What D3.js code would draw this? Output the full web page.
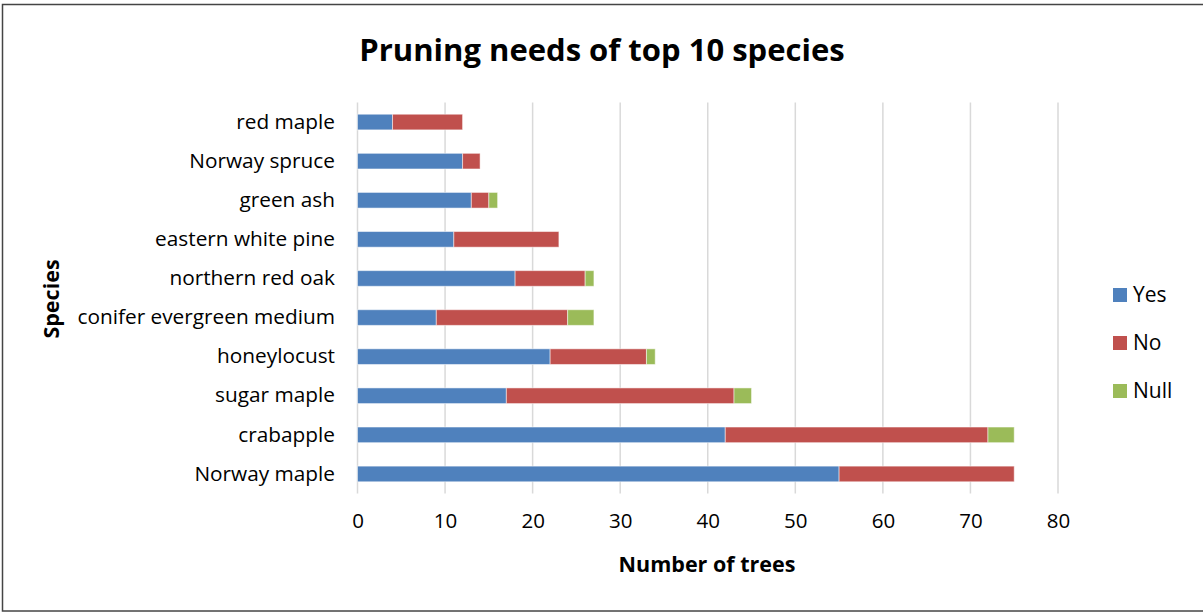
<!DOCTYPE html>
<html>
<head>
<meta charset="utf-8">
<script src="https://cdn.jsdelivr.net/npm/d3@7"></script>
<style>
  body { margin: 0; background: #fff; }
  svg text { font-family: "Open Sans", sans-serif; fill: #000; }
</style>
</head>
<body>
<svg id="chart" width="1203" height="613"></svg>
<script>
// species listed bottom to top as in the chart
const species = ["Norway maple", "crabapple", "sugar maple", "honeylocust", "conifer evergreen medium",
  "northern red oak", "eastern white pine", "green ash", "Norway spruce", "red maple"];
const yesCounts = [55, 42, 17, 22, 9, 18, 11, 13, 12, 4];
const noCounts = [20, 30, 26, 11, 15, 8, 12, 2, 2, 8];
const nullCounts = [0, 3, 2, 1, 3, 1, 0, 1, 0, 0];
const seriesNames = ["Yes", "No", "Null"];
const xTicks = [0, 10, 20, 30, 40, 50, 60, 70, 80];

const colors = {"Yes": "#4F81BD", "No": "#C0504D", "Null": "#9BBB59"};

const svg = d3.select("#chart");

// outer frame
svg.append("rect")
  .attr("x", 2.5).attr("y", 4.5)
  .attr("width", 1210).attr("height", 606.5)
  .attr("fill", "none").attr("stroke", "#444").attr("stroke-width", 1.5);

const x = d3.scaleLinear().domain([0, 80]).range([357.5, 1058]);
const y = d3.scaleBand().domain(species.slice().reverse()).range([102.5, 493.5]).paddingInner(0.6).paddingOuter(0.3);

// gridlines
svg.append("g")
  .selectAll("line")
  .data(xTicks)
  .enter()
  .append("line")
  .attr("x1", d => x(d)).attr("x2", d => x(d))
  .attr("y1", 102.5).attr("y2", 493.5)
  .attr("stroke", "#d9d9d9").attr("stroke-width", 1.5);

const table = species.map((s, i) => ({species: s, Yes: yesCounts[i], No: noCounts[i], Null: nullCounts[i]}));
const stacked = d3.stack().keys(seriesNames)(table);

svg.append("g")
  .selectAll("g")
  .data(stacked)
  .enter()
  .append("g")
  .attr("fill", d => colors[d.key])
  .selectAll("rect")
  .data(d => d.filter(p => p[1] > p[0]))
  .enter()
  .append("rect")
  .attr("x", d => x(d[0]))
  .attr("y", d => y(d.data.species))
  .attr("width", d => x(d[1]) - x(d[0]))
  .attr("height", y.bandwidth())
  .attr("stroke", "rgba(255,255,255,0.5)")
  .attr("stroke-width", 1);

// x axis labels
const xAxis = svg.append("g")
  .attr("transform", "translate(0,513)")
  .call(d3.axisBottom(x).tickValues(xTicks).tickSize(0).tickPadding(0));
xAxis.select(".domain").remove();
xAxis.selectAll("text").style("font-size", "20.5px").attr("dy", "0.71em").style("font-family", "'Open Sans', sans-serif");

// y axis labels
const yAxis = svg.append("g")
  .attr("transform", "translate(335,0)")
  .call(d3.axisLeft(y).tickSize(0).tickPadding(0));
yAxis.select(".domain").remove();
yAxis.selectAll("text").style("font-size", "20.8px").style("font-family", "'Open Sans', sans-serif");

// title
svg.append("text")
  .attr("x", 602).attr("y", 61)
  .attr("text-anchor", "middle")
  .style("font-size", "31px").style("font-weight", "bold")
  .text("Pruning needs of top 10 species");

svg.append("text")
  .attr("x", 707).attr("y", 572)
  .attr("text-anchor", "middle")
  .style("font-size", "21.5px").style("font-weight", "bold")
  .text("Number of trees");

svg.append("text")
  .attr("transform", "translate(59,299) rotate(-90)")
  .attr("text-anchor", "middle")
  .style("font-size", "21.5px").style("font-weight", "bold")
  .text("Species");

// legend
const legend = svg.append("g").attr("transform", "translate(1113,295)");
const items = legend.selectAll("g")
  .data(seriesNames)
  .enter()
  .append("g")
  .attr("transform", (d, i) => `translate(0,${i * 48})`);
items.append("rect")
  .attr("x", 0).attr("y", -7)
  .attr("width", 14).attr("height", 14)
  .attr("fill", d => colors[d]);
items.append("text")
  .attr("x", 20).attr("y", 0).attr("dy", "0.35em")
  .style("font-size", "21px")
  .text(d => d);
</script>
</body>
</html>
